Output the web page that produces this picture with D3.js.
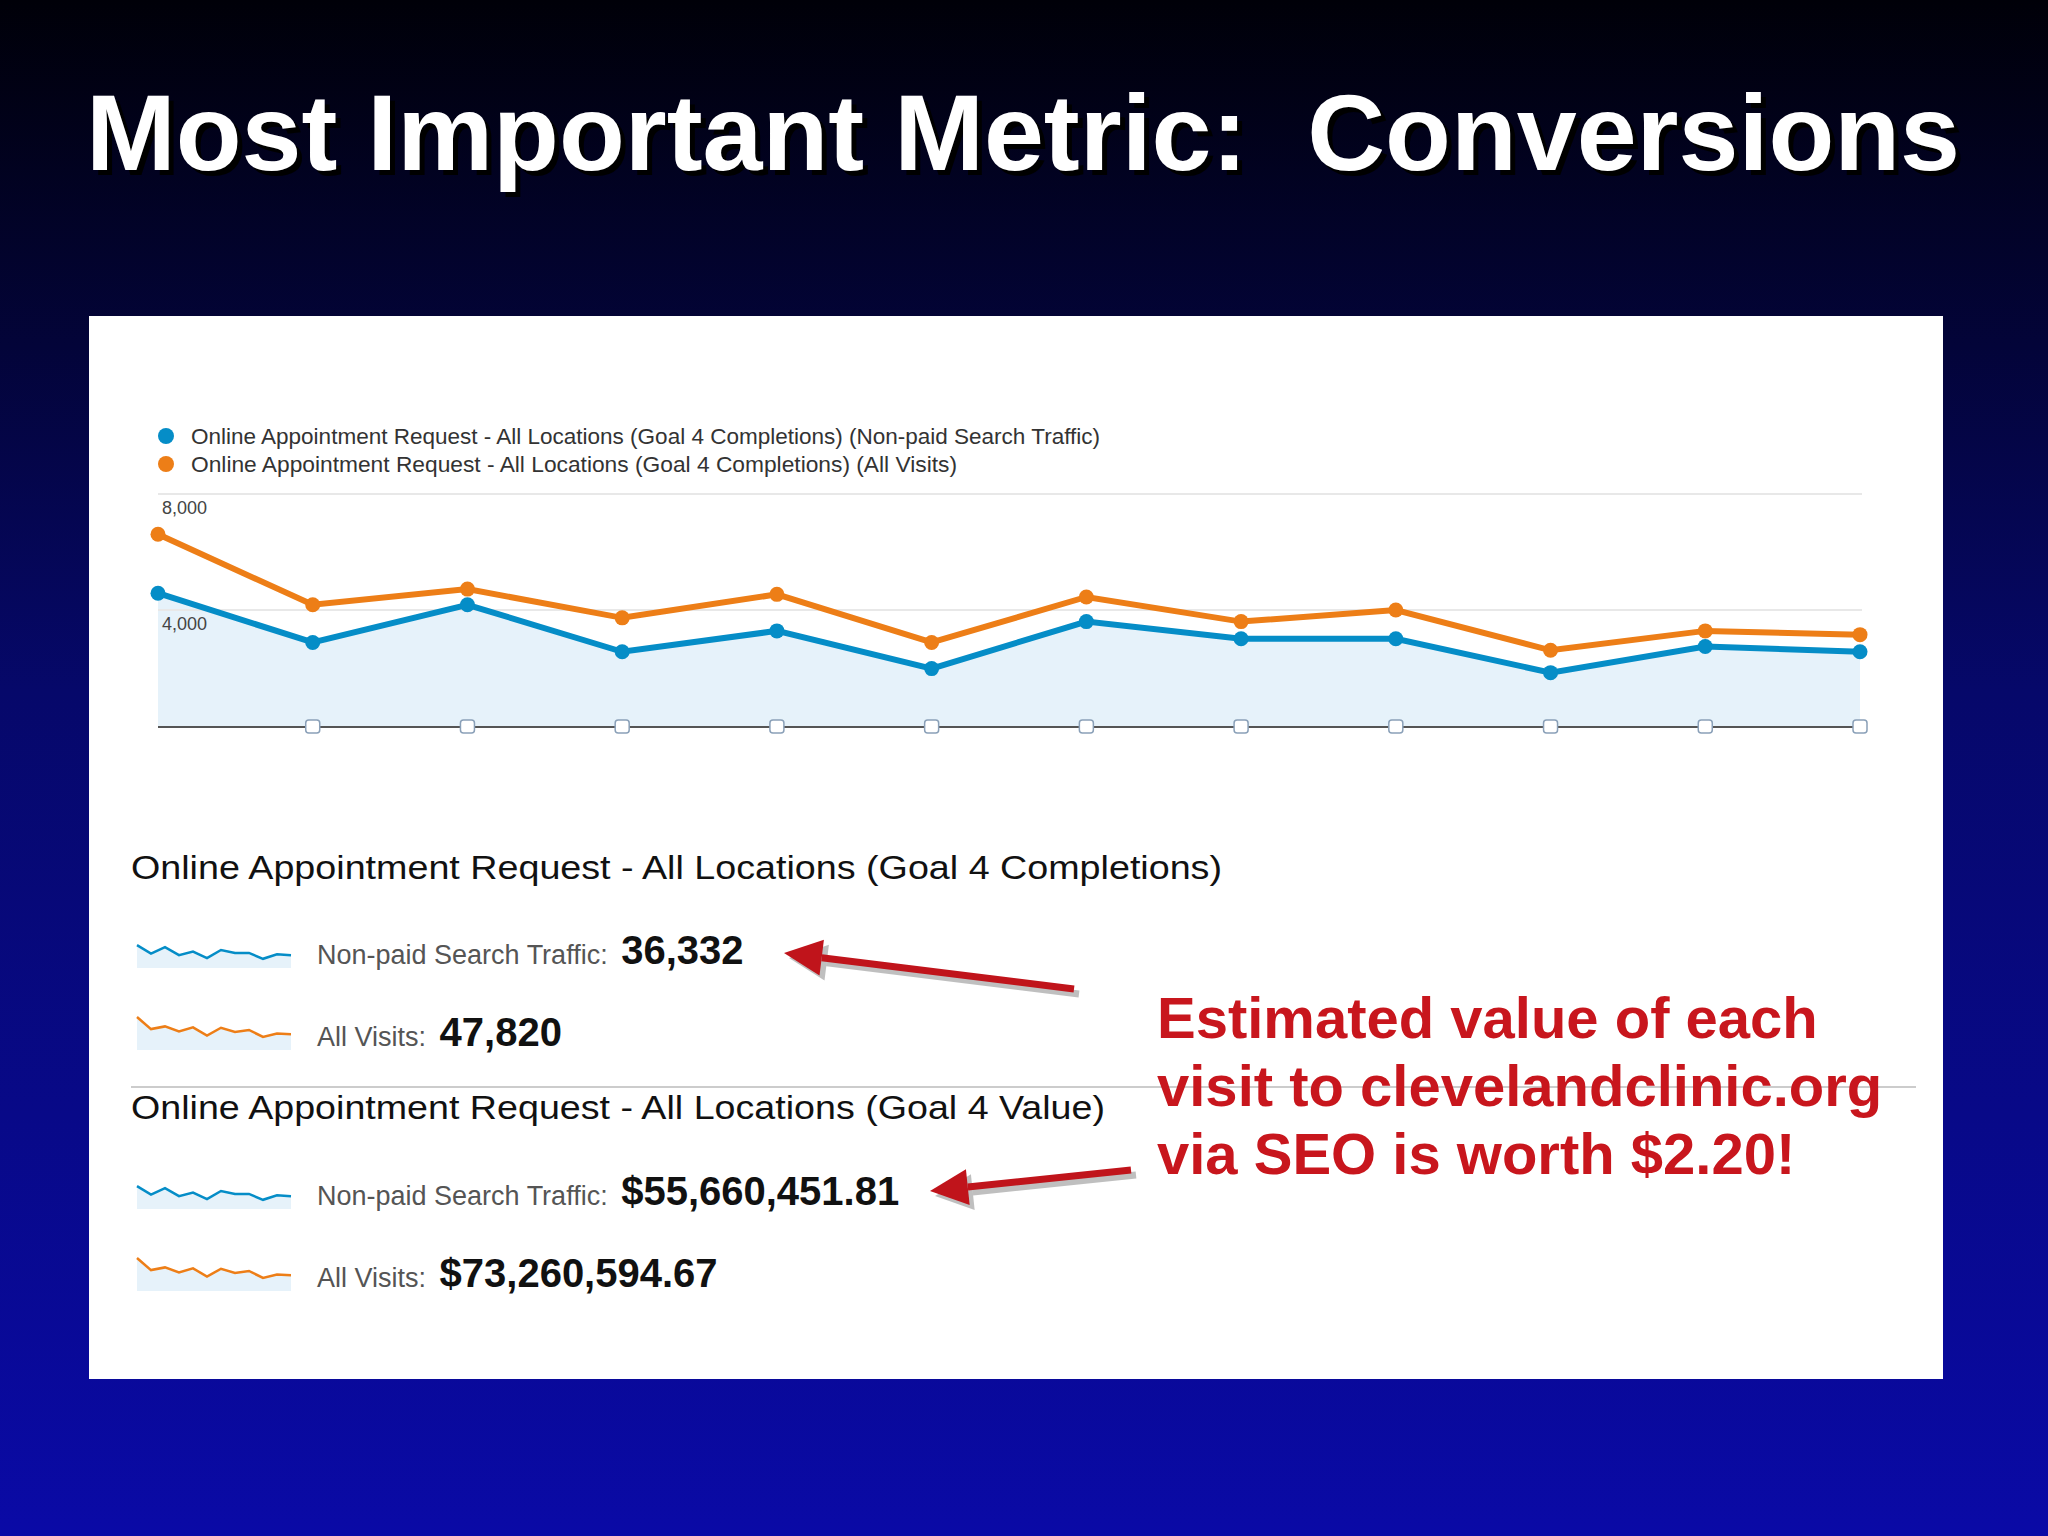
<!DOCTYPE html>
<html><head><meta charset="utf-8">
<script src="https://cdn.jsdelivr.net/npm/d3@7"></script>
<style>body{margin:0;background:#000} text{white-space:pre}</style>
</head><body>
<script>
// Values
var PERIODS = d3.range(12);
var NONPAID = [4580, 2880, 4180, 2560, 3280, 1980, 3600, 3010, 3010, 1840, 2740, 2560];
var ALL_VISITS = [6610, 4180, 4720, 3730, 4540, 2880, 4450, 3600, 4000, 2610, 3280, 3150];
var Y_TICKS = [4000, 8000];
var LEGEND = ["Online Appointment Request - All Locations (Goal 4 Completions) (Non-paid Search Traffic)",
              "Online Appointment Request - All Locations (Goal 4 Completions) (All Visits)"];
var TOTAL_LABELS = ["Non-paid Search Traffic: ", "All Visits: ", "Non-paid Search Traffic: ", "All Visits: "];
var TOTAL_VALUES = ["36,332", "47,820", "$55,660,451.81", "$73,260,594.67"];
var NOTE = ["Estimated value of each", "visit to clevelandclinic.org", "via SEO is worth $2.20!"];

var BLUE = "#058dc7", ORANGE = "#ed7e17", FILL = "#e6f2fa";
var W = 2048, H = 1536;

var svg = d3.select("body").append("svg").attr("width", W).attr("height", H);
var defs = svg.append("defs");
var grad = defs.append("linearGradient").attr("id", "bg").attr("x1", 0).attr("y1", 0).attr("x2", 0).attr("y2", 1);
grad.append("stop").attr("offset", "0").attr("stop-color", "#000008");
grad.append("stop").attr("offset", "0.45").attr("stop-color", "#06086a");
grad.append("stop").attr("offset", "1").attr("stop-color", "#0a0aa6");
svg.append("rect").attr("width", W).attr("height", H).attr("fill", "url(#bg)");

// Title with shadow
["#000", "#fff"].forEach(function(c, k) {
    svg.append("text")
        .attr("x", 86 + (k ? 0 : 5)).attr("y", 170 + (k ? 0 : 5))
        .attr("textLength", 1874).attr("lengthAdjust", "spacingAndGlyphs")
        .attr("font-family", "Liberation Sans, Arial").attr("font-weight", "bold")
        .attr("font-size", 108).attr("fill", c)
        .text("Most Important Metric:  Conversions");
});

// White panel
svg.append("rect").attr("x", 89).attr("y", 316).attr("width", 1854).attr("height", 1063).attr("fill", "#fff");

// Legend
LEGEND.forEach(function(t, i) {
    svg.append("circle").attr("cx", 166).attr("cy", 436 + i * 28).attr("r", 8).attr("fill", i ? ORANGE : BLUE);
    svg.append("text").attr("x", 191).attr("y", 444 + i * 28)
        .attr("textLength", i ? 766 : 909).attr("lengthAdjust", "spacingAndGlyphs")
        .attr("font-family", "Liberation Sans Narrow, Liberation Sans").attr("font-size", 22)
        .attr("fill", "#333").text(t);
});

// Main chart
var xScale = d3.scalePoint().domain(PERIODS).range([158, 1860]);
var yScale = d3.scaleLinear().domain([0, 8000]).range([726, 494]);

svg.append("path").datum(NONPAID)
    .attr("d", d3.area().x((d, i) => xScale(i)).y0(yScale(0)).y1(d => yScale(d)))
    .attr("fill", FILL);
svg.append("line").attr("x1", 158).attr("x2", 1862).attr("y1", 494).attr("y2", 494).attr("stroke", "#e8e8e8").attr("stroke-width", 2);
Y_TICKS.forEach(function(t) {
    svg.append("line").attr("x1", 158).attr("x2", 1862).attr("y1", yScale(t)).attr("y2", yScale(t)).attr("stroke", "#e8e8e8").attr("stroke-width", 2);
    svg.append("text").attr("x", 162).attr("y", yScale(t) + 20)
        .attr("font-family", "Liberation Sans Narrow, Liberation Sans").attr("font-size", 18).attr("fill", "#444")
        .text(d3.format(",")(t));
});
svg.append("line").attr("x1", 158).attr("x2", 1860).attr("y1", 727).attr("y2", 727).attr("stroke", "#555").attr("stroke-width", 2);

PERIODS.slice(1).forEach(function(p) {
    svg.append("rect").attr("x", xScale(p) - 7).attr("y", 720).attr("width", 14).attr("height", 13)
        .attr("rx", 3).attr("fill", "#fff").attr("stroke", "#8aa0b8").attr("stroke-width", 1.5);
});

[[ALL_VISITS, ORANGE], [NONPAID, BLUE]].forEach(function(s) {
    svg.append("path").datum(s[0])
        .attr("d", d3.line().x((d, i) => xScale(i)).y(d => yScale(d)))
        .attr("fill", "none").attr("stroke", s[1]).attr("stroke-width", 6);
    svg.selectAll(null).data(s[0]).enter().append("circle")
        .attr("cx", (d, i) => xScale(i)).attr("cy", d => yScale(d)).attr("r", 7.5).attr("fill", s[1]);
});

// Section headings
var HEADS = ["Online Appointment Request - All Locations (Goal 4 Completions)",
             "Online Appointment Request - All Locations (Goal 4 Value)"];
[879, 1119].forEach(function(y, i) {
    svg.append("text").attr("x", 131).attr("y", y)
        .attr("font-family", "Liberation Sans, Arial").attr("font-size", 34).attr("fill", "#111")
        .attr("textLength", i ? 974 : 1091).attr("lengthAdjust", "spacingAndGlyphs").text(HEADS[i]);
});
svg.append("line").attr("x1", 131).attr("x2", 1916).attr("y1", 1087).attr("y2", 1087).attr("stroke", "#ccc").attr("stroke-width", 2);

// Sparklines and totals
var ROWS = [962, 1044, 1203, 1285];
var sx = d3.scalePoint().domain(PERIODS).range([137, 291]);
ROWS.forEach(function(y, r) {
    var data = r % 2 ? ALL_VISITS : NONPAID;
    var col = r % 2 ? ORANGE : BLUE;
    var sy = d3.scaleLinear().domain([0, 10000]).range([y + 6, y - 44]);
    svg.append("path").datum(data)
        .attr("d", d3.area().x((d, i) => sx(i)).y0(y + 6).y1(d => sy(d)))
        .attr("fill", FILL);
    svg.append("path").datum(data)
        .attr("d", d3.line().x((d, i) => sx(i)).y(d => sy(d)))
        .attr("fill", "none").attr("stroke", col).attr("stroke-width", 2.5);
    var t = svg.append("text").attr("x", 317).attr("y", y + 2)
        .attr("font-family", "Liberation Sans, Arial");
    t.append("tspan").attr("font-size", 27).attr("fill", "#555").text(TOTAL_LABELS[r]);
    t.append("tspan").attr("font-size", 40).attr("font-weight", "bold").attr("fill", "#111").attr("dx", 6).text(TOTAL_VALUES[r]);
});

// Red arrows
var ARROWS = [[[1074, 989], [784, 953]], [[1131, 1170], [930, 1191]]];
function arrow(a, c, dx) {
    var x1 = a[0][0] + dx, y1 = a[0][1] + dx, x2 = a[1][0] + dx, y2 = a[1][1] + dx;
    var ang = Math.atan2(y2 - y1, x2 - x1), L = 38, Wd = 18;
    var bx = x2 - L * Math.cos(ang), by = y2 - L * Math.sin(ang);
    svg.append("line").attr("x1", x1).attr("y1", y1).attr("x2", bx).attr("y2", by)
        .attr("stroke", c).attr("stroke-width", 7);
    svg.append("path").attr("fill", c).attr("d",
        "M" + x2 + "," + y2 + "L" + (bx - Wd * Math.sin(ang)) + "," + (by + Wd * Math.cos(ang)) +
        "L" + (bx + Wd * Math.sin(ang)) + "," + (by - Wd * Math.cos(ang)) + "Z");
}
ARROWS.forEach(function(a) { arrow(a, "rgba(0,0,0,0.25)", 5); arrow(a, "#c0141b", 0); });

// Red note
NOTE.forEach(function(t, i) {
    svg.append("text").attr("x", 1157).attr("y", 1038 + i * 68)
        .attr("font-family", "Liberation Sans, Arial").attr("font-weight", "bold")
        .attr("font-size", 58).attr("fill", "#c8161d").text(t);
});
</script>
</body></html>
